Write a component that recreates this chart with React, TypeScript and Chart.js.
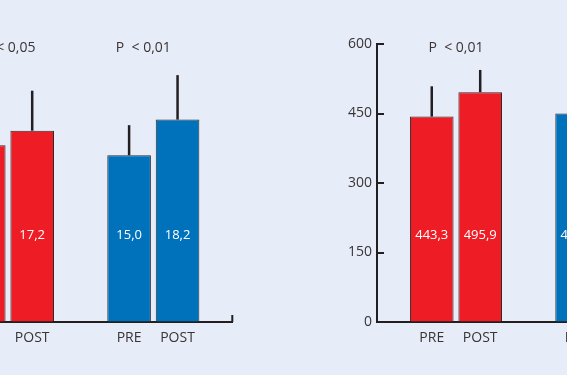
import { useEffect, useRef } from "react";
import { Chart, registerables } from "chart.js";

Chart.register(...registerables);

// ---- data ----
const categories = ["PRE", "POST", "PRE", "POST"];
const positions = [0, 1, 3, 4];
const groupColors = ["#ee1c25", "#ee1c25", "#0072bc", "#0072bc"];

const leftValues = [15.9, 17.2, 15.0, 18.2];
const leftSD = [3.2, 3.6, 2.7, 4.0];
const leftPLabels = ["P  < 0,05", "P  < 0,01"];
const leftYMax = 25;
const leftYStep = 5;

const rightValues = [443.3, 495.9, 450.2, 489.6];
const rightSD = [65.4, 48.1, 62.0, 55.0];
const rightPLabels = ["P  < 0,01", "P  < 0,05"];
const rightYMax = 600;
const rightYStep = 150;

// ---- style ----
const BG = "#e6edf8";
const INK = "#231f20";
const TEXT = "#3b3334";
const FONT = "'Open Sans', sans-serif";

const CANVAS_W = 360;
const CANVAS_H = 375;

type PanelProps = {
  values: number[];
  sd: number[];
  pLabels: string[];
  pOffsets: number[];
  yMax: number;
  yStep: number;
  left: number;
};

function fmt(v: number) {
  return v.toFixed(1).replace(".", ",");
}

function Panel({ values, sd, pLabels, pOffsets, yMax, yStep, left }: PanelProps) {
  const ref = useRef<HTMLCanvasElement | null>(null);

  useEffect(() => {
    if (!ref.current) return;
    const overlay = {
      id: "overlay",
      afterDatasetsDraw(chart: any) {
        const { ctx, chartArea } = chart;
        const xs = chart.scales.x;
        const ys = chart.scales.y;
        ctx.save();
        // error bars
        ctx.strokeStyle = INK;
        ctx.lineWidth = 2.5;
        values.forEach((v, i) => {
          const x = xs.getPixelForValue(positions[i]);
          ctx.beginPath();
          ctx.moveTo(x, ys.getPixelForValue(v));
          ctx.lineTo(x, ys.getPixelForValue(v + sd[i]));
          ctx.stroke();
        });
        // value labels
        ctx.fillStyle = "#ffffff";
        ctx.font = `13px ${FONT}`;
        ctx.textAlign = "center";
        ctx.textBaseline = "middle";
        const ly = chartArea.bottom - 0.313 * (chartArea.bottom - chartArea.top);
        values.forEach((v, i) => {
          ctx.fillText(fmt(v), xs.getPixelForValue(positions[i]), ly);
        });
        // p labels
        ctx.fillStyle = TEXT;
        ctx.font = `14px ${FONT}`;
        pLabels.forEach((t, g) => {
          const cx =
            (xs.getPixelForValue(positions[g * 2]) + xs.getPixelForValue(positions[g * 2 + 1])) / 2 +
            pOffsets[g];
          ctx.fillText(t, cx, chartArea.top + 4);
        });
        // inward y ticks
        ctx.lineWidth = 2;
        ys.ticks.forEach((t: any) => {
          const y = Math.round(ys.getPixelForValue(t.value));
          ctx.beginPath();
          ctx.moveTo(chartArea.left, y);
          ctx.lineTo(chartArea.left + 7, y);
          ctx.stroke();
        });
        // x axis end tick
        ctx.beginPath();
        ctx.moveTo(chartArea.right, chartArea.bottom);
        ctx.lineTo(chartArea.right, chartArea.bottom - 7);
        ctx.stroke();
        ctx.restore();
      },
    };

    const chart = new Chart(ref.current, {
      type: "bar",
      data: {
        datasets: [
          {
            data: values.map((v, i) => ({ x: positions[i], y: v })),
            backgroundColor: groupColors,
            borderColor: "#2e2a2b",
            borderWidth: 1,
            categoryPercentage: 1,
            barPercentage: 0.9,
          },
        ],
      },
      options: {
        responsive: false,
        animation: false,
        events: [],
        layout: { padding: { left: 0, right: 16.7, top: 44, bottom: 0 } },
        plugins: { legend: { display: false }, tooltip: { enabled: false } },
        scales: {
          x: {
            type: "linear",
            offset: false,
            min: -1.13,
            max: 5.13,
            afterBuildTicks: (scale: any) => {
              scale.ticks = positions.map((p) => ({ value: p }));
            },
            afterFit: (scale: any) => {
              scale.height = 53;
            },
            ticks: {
              autoSkip: false,
              maxRotation: 0,
              padding: 8,
              color: TEXT,
              font: { family: FONT, size: 14 },
              callback: (value: any) => {
                const idx = positions.indexOf(Number(value));
                return idx >= 0 ? categories[idx] : "";
              },
            },
            grid: { display: true, offset: false, drawOnChartArea: false, drawTicks: false },
            border: { display: true, color: INK, width: 2 },
          },
          y: {
            min: 0,
            max: yMax,
            afterFit: (scale: any) => {
              scale.width = 40;
            },
            ticks: {
              stepSize: yStep,
              padding: 5,
              color: TEXT,
              font: { family: FONT, size: 14 },
            },
            grid: { display: true, drawOnChartArea: false, drawTicks: false },
            border: { display: true, color: INK, width: 2 },
          },
        },
      },
      plugins: [overlay],
    } as any);
    return () => chart.destroy();
  }, []);

  return (
    <div style={{ position: "absolute", left, top: 0, width: CANVAS_W, height: CANVAS_H }}>
      <canvas
        ref={ref}
        width={CANVAS_W}
        height={CANVAS_H}
        style={{ width: CANVAS_W, height: CANVAS_H, display: "block" }}
      />
    </div>
  );
}

export default function App() {
  return (
    <div
      style={{
        position: "fixed",
        left: 0,
        top: 0,
        width: 567,
        height: 375,
        overflow: "hidden",
        background: BG,
      }}
    >
      <Panel
        values={leftValues}
        sd={leftSD}
        pLabels={leftPLabels}
        pOffsets={[0, -10]}
        yMax={leftYMax}
        yStep={leftYStep}
        left={-111}
      />
      <Panel
        values={rightValues}
        sd={rightSD}
        pLabels={rightPLabels}
        pOffsets={[0, 0]}
        yMax={rightYMax}
        yStep={rightYStep}
        left={337}
      />
    </div>
  );
}
